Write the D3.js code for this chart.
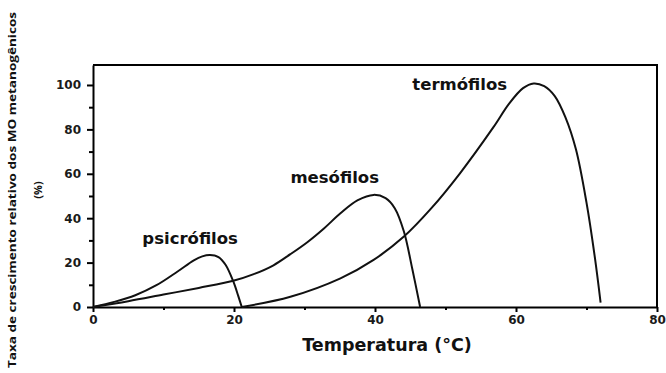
<!DOCTYPE html>
<html>
<head>
<meta charset="utf-8">
<script src="https://cdn.jsdelivr.net/npm/d3@7"></script>
<style>
  body { margin: 0; background: #fff; }
  svg { display: block; }
</style>
</head>
<body>
<svg width="666" height="373"></svg>
<script>
// values (temperature °C, relative growth %)
var psicroX = [0, 3, 6, 9, 12, 14.3, 15.5, 16.6, 17.8, 18.8, 19.9, 20.6, 21.1];
var psicroY = [0, 2.3, 5.3, 9.8, 16, 21, 22.8, 23.4, 22.5, 19, 11.5, 5, 0];
var mesoX = [0, 5, 10, 15, 19.9, 22.8, 25.6, 28, 30.4, 32.8, 35.1, 37.5, 39.8, 41.5, 42.8, 44.1, 45.3, 46.4];
var mesoY = [0, 2.6, 5.6, 8.6, 11.8, 14.8, 18.8, 23.8, 29.2, 35.5, 42.2, 48, 50.5, 49, 44.5, 34, 17, 0];
var termoX = [21.1, 28, 35.1, 39.8, 44.1, 48, 52, 56.8, 59, 61, 62.5, 64, 65.5, 67, 68.5, 70, 71.2, 72];
var termoY = [0, 4.6, 12.9, 21.2, 31.7, 44.5, 60, 81, 91.5, 98.6, 100.7, 99.5, 95, 85.5, 71, 47, 22, 2];
var curveNames = ["psicrófilos", "mesófilos", "termófilos"];
var xTicks = [0, 20, 40, 60, 80];
var yTicks = [0, 20, 40, 60, 80, 100];

var margin = { top: 65, right: 9, bottom: 66, left: 93 },
    width = 666 - margin.left - margin.right,
    height = 373 - margin.top - margin.bottom;

var svg = d3.select("svg")
    .append("g")
    .attr("transform", "translate(" + margin.left + "," + margin.top + ")");

var x = d3.scaleLinear().domain([0, 80]).range([0, width]);
var y = d3.scaleLinear().domain([0, 109]).range([height, 0]);

// minor ticks
svg.append("g")
    .attr("transform", "translate(0," + height + ")")
    .call(d3.axisBottom(x).tickValues([10, 30, 50, 70]).tickSize(3).tickFormat(""))
    .call(g => g.select(".domain").remove())
    .selectAll("line").attr("stroke-width", 2);
svg.append("g")
    .call(d3.axisLeft(y).tickValues([10, 30, 50, 70, 90]).tickSize(4).tickFormat(""))
    .call(g => g.select(".domain").remove())
    .selectAll("line").attr("stroke-width", 2);

var xAxis = svg.append("g")
    .attr("transform", "translate(0," + height + ")")
    .call(d3.axisBottom(x).tickValues(xTicks).tickSize(5).tickSizeOuter(0).tickPadding(3));
var yAxis = svg.append("g")
    .call(d3.axisLeft(y).tickValues(yTicks).tickSize(6).tickSizeOuter(0).tickPadding(6));

[xAxis, yAxis].forEach(function (g) {
    g.select(".domain").attr("stroke-width", 2);
    g.selectAll("line").attr("stroke-width", 2);
    g.selectAll("text")
        .attr("font-family", "DejaVu Sans, sans-serif")
        .attr("font-weight", "bold")
        .attr("font-size", 12)
        .attr("fill", "#1a1a1a");
});

// frame top and right
svg.append("path")
    .attr("d", "M0,0H" + width + "V" + height)
    .attr("fill", "none")
    .attr("stroke", "#000")
    .attr("stroke-width", 2);

var line = d3.line()
    .x(function (d) { return x(d[0]); })
    .y(function (d) { return y(d[1]); })
    .curve(d3.curveCatmullRom.alpha(0.5));

var series = [
    d3.zip(psicroX, psicroY),
    d3.zip(mesoX, mesoY),
    d3.zip(termoX, termoY)
];

svg.selectAll(".curve")
    .data(series)
    .enter()
    .append("path")
    .attr("class", "curve")
    .attr("d", line)
    .attr("fill", "none")
    .attr("stroke", "#111")
    .attr("stroke-width", 2);

// curve labels
var labelPos = [[7, 28.6], [28, 56], [45.3, 97.7]];
svg.selectAll(".lbl")
    .data(curveNames)
    .enter()
    .append("text")
    .attr("x", function (d, i) { return x(labelPos[i][0]); })
    .attr("y", function (d, i) { return y(labelPos[i][1]); })
    .attr("font-family", "DejaVu Sans, sans-serif")
    .attr("font-weight", "bold")
    .attr("font-size", 16.5)
    .attr("fill", "#111")
    .text(function (d) { return d; });

// axis titles
svg.append("text")
    .attr("x", 387 - margin.left)
    .attr("y", height + 44)
    .attr("text-anchor", "middle")
    .attr("font-family", "DejaVu Sans, sans-serif")
    .attr("font-weight", "bold")
    .attr("font-size", 17.5)
    .attr("fill", "#111")
    .text("Temperatura  (°C)");

var yt = d3.select("svg").append("text")
    .attr("transform", "translate(16,190) rotate(-90)")
    .attr("text-anchor", "middle")
    .attr("font-family", "Open Sans, sans-serif")
    .attr("font-weight", "bold")
    .attr("font-size", 11)
    .attr("fill", "#111");
yt.append("tspan").attr("x", 0).attr("dy", 0)
    .attr("textLength", 356).attr("lengthAdjust", "spacingAndGlyphs")
    .text("Taxa de crescimento relativo dos MO metanogênicos");
yt.append("tspan").attr("x", 0).attr("dy", 26).text("(%)");
</script>
</body>
</html>
